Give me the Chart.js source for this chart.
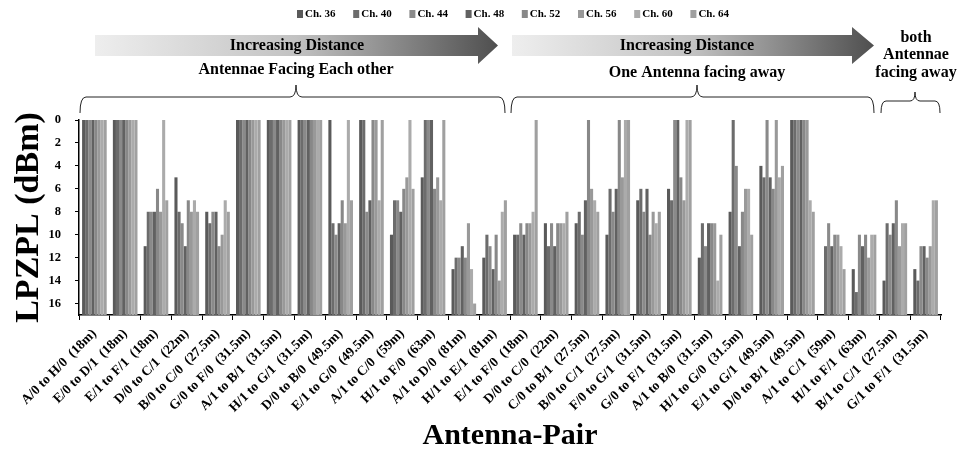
<!DOCTYPE html>
<html>
<head>
<meta charset="utf-8">
<script src="https://cdn.jsdelivr.net/npm/chart.js@4.4.1/dist/chart.umd.min.js"></script>
<style>
  html, body { margin: 0; padding: 0; background: #ffffff; }
  #wrap { width: 965px; height: 454px; position: relative; }
</style>
</head>
<body>
<div id="wrap"><canvas id="c" width="965" height="454"></canvas></div>
<script>
// Antenna pairs (with separation distance)
const pairLabels = [
  'A/0 to H/0  (18m)', 'E/0 to D/1  (18m)', 'E/1 to F/1  (18m)', 'D/0 to C/1  (22m)',
  'B/0 to C/0  (27.5m)', 'G/0 to F/0  (31.5m)', 'A/1 to B/1  (31.5m)', 'H/1 to G/1  (31.5m)',
  'D/0 to B/0  (49.5m)', 'E/1 to G/0  (49.5m)', 'A/1 to C/0  (59m)', 'H/1 to F/0  (63m)',
  'A/1 to D/0  (81m)', 'H/1 to E/1  (81m)', 'E/1 to F/0  (18m)', 'D/0 to C/0  (22m)',
  'C/0 to B/1  (27.5m)', 'B/0 to C/1  (27.5m)', 'F/0 to G/1  (31.5m)', 'G/0 to F/1  (31.5m)',
  'A/1 to B/0  (31.5m)', 'H/1 to G/0  (31.5m)', 'E/1 to G/1  (49.5m)', 'D/0 to B/1  (49.5m)',
  'A/1 to C/1  (59m)', 'H/1 to F/1  (63m)', 'B/1 to C/1  (27.5m)', 'G/1 to F/1  (31.5m)'
];

const channelNames = ['Ch. 36', 'Ch. 40', 'Ch. 44', 'Ch. 48', 'Ch. 52', 'Ch. 56', 'Ch. 60', 'Ch. 64'];

// LPZPL (dBm) per channel, one entry per antenna pair
const ch36 = [0, 0, 11, 5, 8, 0, 0, 0, 0, 0, 10, 5, 13, 12, 10, 9, 9, 10, 7, 6, 12, 8, 4, 0, null, 13, 14, 13];
const ch40 = [0, 0, 8, 8, 9, 0, 0, 0, 9, 0, 7, 0, 12, 10, 10, 11, 8, 6, 6, 7, 9, 0, 5, 0, 11, 15, 9, 14];
const ch44 = [0, 0, 8, 9, 8, 0, 0, 0, 10, 8, 7, 0, 12, 11, 9, 9, 10, 8, 8, 0, 11, 4, 0, 0, 9, 10, 10, 11];
const ch48 = [0, 0, 8, 11, 8, 0, 0, 0, 9, 7, 8, 0, 11, 13, 10, 11, 7, 6, 6, 0, 9, 11, 5, 0, 11, 11, 9, 11];
const ch52 = [0, 0, 6, 7, 11, 0, 0, 0, 7, 0, 6, 6, 12, 10, 9, 9, 0, 0, 10, 5, 9, 8, 6, 0, 10, 10, 7, 12];
const ch56 = [0, 0, 8, 8, 10, 0, 0, 0, 9, 0, 5, 5, 9, 14, 9, 9, 6, 5, 8, 7, 9, 6, 0, 0, 10, 12, 11, 11];
const ch60 = [0, 0, 0, 7, 7, 0, 0, 0, 0, 7, 0, 7, 13, 8, 8, 9, 7, 0, 9, 0, 14, 6, 5, 7, 11, 10, 9, 7];
const ch64 = [0, 0, 7, 8, 8, 0, 0, 0, 7, 0, 6, 0, 16, 7, 0, 8, 8, 0, 8, 0, 10, 10, 4, 8, 13, 10, 9, 7];

const yTickValues = [0, 2, 4, 6, 8, 10, 12, 14, 16];
const axisFloor = 17;   // bottom of the reversed value axis; bars rise from here

const channelColors = ['#5a5a5a', '#6c6c6c', '#8a8a8a', '#616161', '#888888', '#999999', '#ababab', '#a0a0a0'];
const seriesValues = [ch36, ch40, ch44, ch48, ch52, ch56, ch60, ch64];

const SERIF = "'Liberation Serif', 'DejaVu Serif', serif";

// Gradient arrow
function drawArrow(ctx, x0, x1, yMid, headLen, bodyHalf, headHalf) {
  const g = ctx.createLinearGradient(x0, 0, x1, 0);
  g.addColorStop(0, '#eeeeee');
  g.addColorStop(0.5, '#c2c2c2');
  g.addColorStop(1, '#4f4f4f');
  ctx.beginPath();
  ctx.moveTo(x0, yMid - bodyHalf);
  ctx.lineTo(x1 - headLen, yMid - bodyHalf);
  ctx.lineTo(x1 - headLen, yMid - headHalf);
  ctx.lineTo(x1, yMid);
  ctx.lineTo(x1 - headLen, yMid + headHalf);
  ctx.lineTo(x1 - headLen, yMid + bodyHalf);
  ctx.lineTo(x0, yMid + bodyHalf);
  ctx.closePath();
  ctx.fillStyle = g;
  ctx.fill();
}

// Horizontal curly brace opening downwards
function drawBrace(ctx, x1, x2, xPeak, yEnd, yMid, yPeak, r) {
  ctx.beginPath();
  ctx.moveTo(x1, yEnd);
  ctx.quadraticCurveTo(x1, yMid, x1 + r, yMid);
  ctx.lineTo(xPeak - r, yMid);
  ctx.quadraticCurveTo(xPeak, yMid, xPeak, yPeak);
  ctx.quadraticCurveTo(xPeak, yMid, xPeak + r, yMid);
  ctx.lineTo(x2 - r, yMid);
  ctx.quadraticCurveTo(x2, yMid, x2, yEnd);
  ctx.strokeStyle = '#222222';
  ctx.lineWidth = 1;
  ctx.stroke();
}

function centerText(ctx, text, x, y, size) {
  ctx.font = 'bold ' + size + 'px ' + SERIF;
  ctx.fillStyle = '#000000';
  ctx.textAlign = 'center';
  ctx.textBaseline = 'middle';
  ctx.fillText(text, x, y);
}

const annotations = {
  id: 'annotations',
  afterDraw(chart) {
    const ctx = chart.ctx;
    ctx.save();

    // legend
    ctx.font = 'bold 11px ' + SERIF;
    ctx.textBaseline = 'middle';
    ctx.textAlign = 'left';
    let lx = 297;
    channelNames.forEach((name, i) => {
      ctx.fillStyle = channelColors[i];
      ctx.fillRect(lx, 10, 6, 8);
      ctx.fillStyle = '#000000';
      ctx.fillText(name, lx + 8, 14.5);
      lx += 56.2;
    });

    // distance arrows
    drawArrow(ctx, 95, 498, 45.5, 20, 10.5, 18.5);
    drawArrow(ctx, 512, 874, 45.5, 22, 10.5, 18.5);
    centerText(ctx, 'Increasing Distance', 297, 46, 16);
    centerText(ctx, 'Increasing Distance', 687, 46, 16);

    // group captions
    centerText(ctx, 'Antennae Facing Each other', 296, 70, 16);
    centerText(ctx, 'One Antenna facing away', 697, 73, 16);
    centerText(ctx, 'both', 916, 38, 16);
    centerText(ctx, 'Antennae', 916, 55, 16);
    centerText(ctx, 'facing away', 916, 73, 16);

    // braces over the three groups
    drawBrace(ctx, 80, 505, 296, 113, 97, 85, 6);
    drawBrace(ctx, 511, 874, 697, 113, 97, 85, 6);
    drawBrace(ctx, 881, 940, 915, 113, 101, 92, 5);

    ctx.restore();
  }
};

const chart = new Chart(document.getElementById('c'), {
  type: 'bar',
  data: {
    labels: pairLabels,
    datasets: channelNames.map((name, i) => ({
      label: name,
      data: seriesValues[i],
      backgroundColor: channelColors[i],
      borderWidth: 0,
      base: axisFloor,
      categoryPercentage: 0.8,
      barPercentage: 1.0
    }))
  },
  options: {
    responsive: false,
    animation: false,
    devicePixelRatio: 1,
    layout: { padding: { top: 120, right: 24, bottom: 0, left: 11 } },
    plugins: {
      legend: { display: false },
      tooltip: { enabled: false }
    },
    scales: {
      x: {
        type: 'category',
        grid: { offset: true, drawOnChartArea: false, drawTicks: true, tickLength: 5, color: '#000000' },
        border: { display: true, color: '#000000', width: 1.5 },
        ticks: {
          autoSkip: false, maxRotation: 45, minRotation: 45, padding: 6,
          color: '#000000', font: { family: SERIF, weight: 'bold', size: 13.5 }
        },
        title: {
          display: true, text: 'Antenna-Pair', color: '#000000',
          font: { family: SERIF, weight: 'bold', size: 30, lineHeight: 1.2 },
          padding: { top: 0, bottom: 0 }
        },
        afterFit(scale) { scale.height = 139; }
      },
      y: {
        type: 'linear',
        reverse: true,
        min: 0,
        max: axisFloor,
        grid: { drawOnChartArea: false, drawTicks: true, tickLength: 4, color: '#000000' },
        border: { display: true, color: '#000000', width: 1.5 },
        ticks: {
          stepSize: 2, padding: 14, color: '#000000',
          font: { family: SERIF, weight: 'bold', size: 12.5 }
        },
        afterBuildTicks(scale) {
          scale.ticks = yTickValues.map(v => ({ value: v }));
        },
        title: {
          display: true, text: 'LPZPL (dBm)', color: '#000000',
          font: { family: SERIF, weight: 'bold', size: 34, lineHeight: 1.1 },
          padding: { top: 0, bottom: 0 }
        },
        afterFit(scale) { scale.width = 68; }
      }
    }
  },
  plugins: [annotations]
});
</script>
</body>
</html>
